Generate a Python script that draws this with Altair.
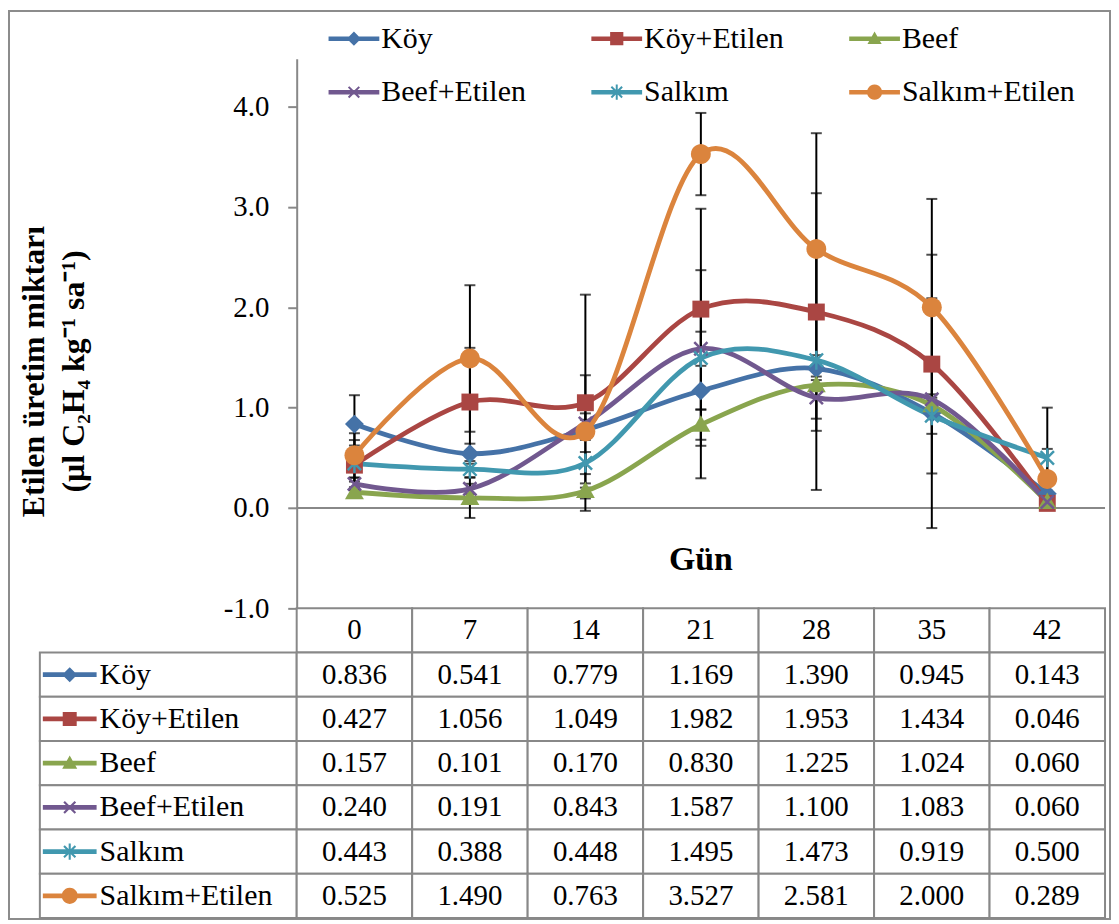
import math
import altair as alt
import pandas as pd

# ---------------- data ----------------
days = [0, 7, 14, 21, 28, 35, 42]
series = ["Köy", "Köy+Etilen", "Beef", "Beef+Etilen", "Salkım", "Salkım+Etilen"]
colors = ["#4572A7", "#AA4643", "#89A54E", "#71588F", "#4198AF", "#DB843D"]

koy = [0.836, 0.541, 0.779, 1.169, 1.390, 0.945, 0.143]
koy_et = [0.427, 1.056, 1.049, 1.982, 1.953, 1.434, 0.046]
beef = [0.157, 0.101, 0.170, 0.830, 1.225, 1.024, 0.060]
beef_et = [0.240, 0.191, 0.843, 1.587, 1.100, 1.083, 0.060]
salkim = [0.443, 0.388, 0.448, 1.495, 1.473, 0.919, 0.500]
salkim_et = [0.525, 1.490, 0.763, 3.527, 2.581, 2.000, 0.289]

# error bar half-widths
err_koy = [0.288, 0.10, 0.10, 0.873, 1.21, 1.145, 0.03]
err_koy_et = [0.25, 0.54, 1.077, 1.00, 1.184, 1.09, 0.03]
err_beef = [0.05, 0.20, 0.075, 0.15, 0.05, 0.05, 0.03]
err_beef_et = [0.06, 0.05, 0.10, 0.17, 0.21, 0.05, 0.03]
err_salkim = [0.18, 0.08, 0.11, 0.875, 0.05, 0.18, 0.50]
err_salkim_et = [0.22, 0.73, 0.56, 0.41, 1.154, 1.08, 0.30]

y_ticks = [-1, 0, 1, 2, 3, 4]
y_title = ["Etilen üretim miktarı", "(µl C₂H₄ kg⁻¹ sa⁻¹)"]
x_title = "Gün"

values = [koy, koy_et, beef, beef_et, salkim, salkim_et]
errors = [err_koy, err_koy_et, err_beef, err_beef_et, err_salkim, err_salkim_et]

# ---------------- marker paths (style) ----------------
def poly(pts):
    return "M" + "L".join(f"{x:.4f},{y:.4f}" for x, y in pts) + "Z"

def bar(L, t, ang):
    c, s = math.cos(ang), math.sin(ang)
    pts = [(-L, -t), (L, -t), (L, t), (-L, t)]
    return poly([(x * c - y * s, x * s + y * c) for x, y in pts])

def marker(kind, s):
    if kind == "diamond":
        return poly([(0, -s), (s, 0), (0, s), (-s, 0)])
    if kind == "square":
        return poly([(-s, -s), (s, -s), (s, s), (-s, s)])
    if kind == "triangle":
        return poly([(0, -s), (s, 0.75 * s), (-s, 0.75 * s)])
    if kind == "x":
        return bar(1.1 * s, 0.15 * s, math.pi / 4) + bar(1.1 * s, 0.15 * s, -math.pi / 4)
    if kind == "star":
        return (bar(1.0 * s, 0.13 * s, math.pi / 4) + bar(1.0 * s, 0.13 * s, -math.pi / 4)
                + bar(1.0 * s, 0.13 * s, math.pi / 2))
    if kind == "circle":
        n = 24
        return poly([(s * math.cos(2 * math.pi * i / n), s * math.sin(2 * math.pi * i / n))
                     for i in range(n)])

kinds = ["diamond", "square", "triangle", "x", "star", "circle"]
plot_scale = [0.95, 0.85, 0.95, 0.85, 0.95, 1.0]
plot_paths = [marker(k, s) for k, s in zip(kinds, plot_scale)]
leg_scale = [0.28, 0.26, 0.28, 0.27, 0.30, 0.30]
line_seg = poly([(-1, -0.09), (1, -0.09), (1, 0.09), (-1, 0.09)])
legend_paths = [line_seg + marker(k, s) for k, s in zip(kinds, leg_scale)]

# ---------------- tables ----------------
rows = []
for si, (name, v, e) in enumerate(zip(series, values, errors)):
    for di, d in enumerate(days):
        rows.append(dict(series=name, order=si, day=d, xpos=di + 0.5, value=v[di],
                         lo=v[di] - e[di], hi=v[di] + e[di], label=f"{v[di]:.3f}"))
df = pd.DataFrame(rows)
caps = pd.concat([df.assign(cap=df["lo"]), df.assign(cap=df["hi"])], ignore_index=True)

W, H, TH = 1070, 552, 311
YMIN, YMAX = -1, 4.476
PXX = 116.0                 # pixels per day column
PXY = H / (YMAX - YMIN)     # pixels per y unit
LEFT = -258 / PXX

cells = []
for di in range(len(days)):
    cells.append(dict(row="hdr", x0=di, x1=di + 1))
for s in series:
    cells.append(dict(row=s, x0=LEFT, x1=0))
    for di in range(len(days)):
        cells.append(dict(row=s, x0=di, x1=di + 1))
cells_df = pd.DataFrame(cells)
hdr_df = pd.DataFrame(dict(row=["hdr"] * len(days), xpos=[i + 0.5 for i in range(len(days))],
                           txt=[str(d) for d in days]))
lab_df = pd.DataFrame(dict(row=series, lx=[LEFT + 60 / PXX] * len(series),
                           sx=[LEFT + 30 / PXX] * len(series)))

F = "Liberation Serif"
GRAY = "#888888"
NOVIEW = alt.ViewBackground(stroke="transparent", strokeWidth=0, fill="transparent")

xs = alt.Scale(domain=[LEFT, 7], nice=False, zero=False)
ys = alt.Scale(domain=[YMIN, YMAX], nice=False, zero=False)
color_scale = alt.Scale(domain=series, range=colors)

yax = alt.Axis(values=y_ticks, format=".1f", offset=-258, grid=False, title=None,
               labelExpr="replace(datum.label, '\u2212', '-')",
               domainColor=GRAY, domainWidth=2, tickColor=GRAY, tickWidth=2, tickSize=9,
               labelFont=F, labelFontSize=29, labelColor="black", labelPadding=19)

# frame around the whole figure (decoration)
frame_df = pd.DataFrame({"fx0": [LEFT - 31 / PXX], "fx1": [LEFT + 1075 / PXX],
                         "fy0": [YMAX + 48 / PXY], "fy1": [YMIN - (TH + 1) / PXY]})
zero_df = pd.DataFrame({"x0": [0], "x1": [7], "y0": [0]})
gun_df = pd.DataFrame({"gx": [3.5], "gy": [-0.52], "t": [x_title]})
ytitle_df = pd.DataFrame({"t": y_title, "tx": [LEFT - 6 / PXX, LEFT + 34 / PXX],
                          "ty": [1.36, 1.36]})

frame = alt.Chart(frame_df).mark_rect(fill="transparent", stroke="#8c8c8c", strokeWidth=2).encode(
    x=alt.X("fx0:Q", scale=xs, axis=None), x2="fx1:Q",
    y=alt.Y("fy0:Q", scale=ys, axis=yax), y2="fy1:Q")

zero = alt.Chart(zero_df).mark_rule(color=GRAY, strokeWidth=2).encode(
    x=alt.X("x0:Q", scale=xs, axis=None), x2="x1:Q",
    y=alt.Y("y0:Q", scale=ys, axis=yax))

err_rules = alt.Chart(df).mark_rule(color="black", strokeWidth=2).encode(
    x=alt.X("xpos:Q", scale=xs, axis=None),
    y=alt.Y("lo:Q", scale=ys, axis=yax), y2="hi:Q")

err_caps = alt.Chart(caps).mark_tick(orient="horizontal", color="black", size=11, thickness=2).encode(
    x=alt.X("xpos:Q", scale=xs, axis=None),
    y=alt.Y("cap:Q", scale=ys, axis=yax))

lines = alt.Chart(df).mark_line(interpolate="cardinal", strokeWidth=4.8).encode(
    x=alt.X("xpos:Q", scale=xs, axis=None),
    y=alt.Y("value:Q", scale=ys, axis=yax),
    color=alt.Color("series:N", scale=color_scale, legend=None))

points = alt.Chart(df).mark_point(filled=True, opacity=1, size=400).encode(
    x=alt.X("xpos:Q", scale=xs, axis=None),
    y=alt.Y("value:Q", scale=ys, axis=yax),
    color=alt.Color("series:N", scale=color_scale, legend=None),
    shape=alt.Shape("series:N", scale=alt.Scale(domain=series, range=plot_paths), legend=None))

gun = alt.Chart(gun_df).mark_text(font=F, fontSize=34, fontWeight="bold", color="black").encode(
    x=alt.X("gx:Q", scale=xs, axis=None), y=alt.Y("gy:Q", scale=ys, axis=yax), text="t:N")

ytitle = alt.Chart(ytitle_df).mark_text(font=F, fontSize=32, fontWeight="bold", color="black",
                                        angle=270, align="center", baseline="middle").encode(
    x=alt.X("tx:Q", scale=xs, axis=None), y=alt.Y("ty:Q", scale=ys, axis=yax), text="t:N")

top = alt.layer(frame, zero, err_rules, err_caps, lines, points, gun, ytitle).properties(
    width=W, height=H, view=NOVIEW)

# ---------------- data table ----------------
yt = alt.Scale(domain=["hdr"] + series, paddingInner=0, paddingOuter=0)

leg = alt.Legend(orient="none", legendX=290, legendY=-598, columns=3, direction="horizontal",
                 title=None, symbolSize=2600, symbolStrokeWidth=0, symbolOpacity=1,
                 labelFont=F, labelFontSize=30, labelColor="black", labelOffset=2,
                 columnPadding=65, rowPadding=13, padding=0, labelLimit=400)

rects = alt.Chart(cells_df).mark_rect(fill="white", stroke=GRAY, strokeWidth=2).encode(
    x=alt.X("x0:Q", scale=xs, axis=None), x2="x1:Q",
    y=alt.Y("row:N", scale=yt, axis=None))

hdr_txt = alt.Chart(hdr_df).mark_text(font=F, fontSize=29, color="black").encode(
    x=alt.X("xpos:Q", scale=xs, axis=None), y=alt.Y("row:N", scale=yt, axis=None), text="txt:N")

val_txt = alt.Chart(df).mark_text(font=F, fontSize=29, color="black").encode(
    x=alt.X("xpos:Q", scale=xs, axis=None), y=alt.Y("series:N", scale=yt, axis=None),
    text="label:N")

lab_txt = alt.Chart(lab_df).mark_text(font=F, fontSize=30, color="black", align="left").encode(
    x=alt.X("lx:Q", scale=xs, axis=None), y=alt.Y("row:N", scale=yt, axis=None), text="row:N")

lab_sym = alt.Chart(lab_df).mark_point(filled=True, opacity=1, size=2916).encode(
    x=alt.X("sx:Q", scale=xs, axis=None), y=alt.Y("row:N", scale=yt, axis=None),
    color=alt.Color("row:N", scale=color_scale, legend=leg),
    shape=alt.Shape("row:N", scale=alt.Scale(domain=series, range=legend_paths), legend=leg))

table = alt.layer(rects, hdr_txt, val_txt, lab_txt, lab_sym).properties(
    width=W, height=TH, view=NOVIEW)

chart = alt.vconcat(top, table, spacing=0, bounds="flush").resolve_scale(
    color="independent", shape="independent").properties(padding=0).configure_view(
    strokeWidth=0, stroke="transparent", fill="transparent").configure(font=F)

chart.save("out.html", embed_options={"renderer": "svg", "actions": False})
